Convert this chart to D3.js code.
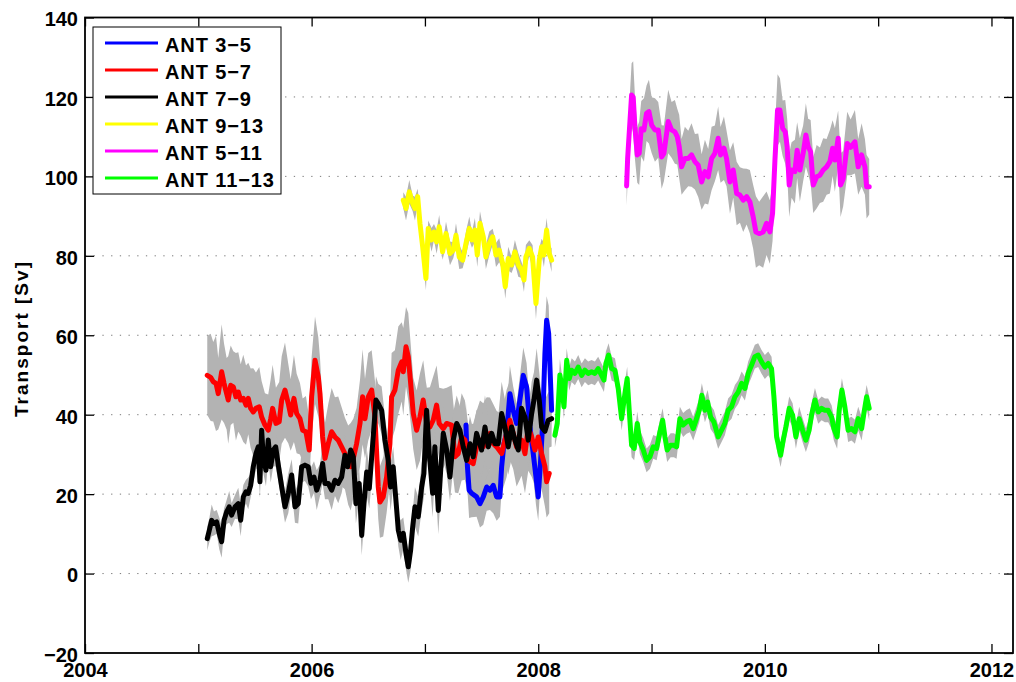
<!DOCTYPE html>
<html>
<head>
<meta charset="utf-8">
<script src="https://cdn.jsdelivr.net/npm/d3@7"></script>
<style>
  html, body { margin: 0; padding: 0; background: #fff; }
  svg { display: block; }
  text { font-family: "Liberation Sans", Arial, Helvetica, sans-serif; font-weight: bold; fill: #000; }
</style>
</head>
<body>
<svg id="chart" width="1016" height="682"></svg>
<script>
// Transport time series per section: [decimal year, transport (Sv), half-width of uncertainty band (Sv)]
const ant35 = [
  [2007.362, 37.4, 6], [2007.375, 27.0, 6], [2007.390, 21.0, 7], [2007.412, 20.2, 6], [2007.456, 19.3, 5],
  [2007.486, 17.6, 6], [2007.515, 19.3, 7], [2007.545, 21.8, 6], [2007.574, 21.0, 5], [2007.603, 22.2, 7],
  [2007.633, 19.3, 6], [2007.662, 19.3, 5], [2007.677, 26.9, 6], [2007.697, 32.7, 7], [2007.721, 35.3, 6],
  [2007.750, 45.3, 7], [2007.779, 41.1, 6], [2007.809, 37.8, 5], [2007.838, 43.7, 6], [2007.868, 49.9, 7],
  [2007.897, 47.0, 6], [2007.927, 36.9, 5], [2007.956, 30.2, 6], [2007.980, 24.3, 7], [2008.000, 19.3, 6],
  [2008.021, 28.5, 5], [2008.039, 37.8, 6], [2008.059, 55.4, 7], [2008.074, 63.8, 6], [2008.092, 60.5, 7],
  [2008.109, 47.9, 6], [2008.118, 41.1, 6]
];

const ant57 = [
  [2005.079, 49.9, 10], [2005.109, 49.4, 11], [2005.132, 48.3, 10], [2005.156, 47.9, 12], [2005.176, 45.3, 9],
  [2005.206, 50.8, 12], [2005.227, 47.9, 10], [2005.250, 45.3, 9], [2005.264, 43.7, 11], [2005.286, 47.4, 10],
  [2005.309, 47.0, 9], [2005.332, 44.5, 11], [2005.353, 45.7, 10], [2005.374, 43.7, 9], [2005.397, 44.1, 11],
  [2005.421, 42.4, 10], [2005.441, 44.1, 9], [2005.462, 41.6, 10], [2005.485, 40.7, 11], [2005.509, 41.6, 9],
  [2005.538, 42.0, 10], [2005.559, 39.4, 9], [2005.588, 37.4, 8], [2005.617, 36.1, 9], [2005.639, 39.0, 10],
  [2005.656, 41.6, 11], [2005.685, 37.8, 9], [2005.714, 38.2, 10], [2005.736, 43.7, 11], [2005.765, 46.2, 12],
  [2005.794, 42.8, 10], [2005.815, 39.9, 9], [2005.844, 44.1, 11], [2005.868, 40.3, 10], [2005.897, 39.0, 9],
  [2005.921, 36.1, 8], [2005.950, 35.7, 9], [2005.979, 31.1, 8], [2006.000, 44.5, 10], [2006.030, 53.7, 11],
  [2006.059, 49.5, 10], [2006.074, 45.3, 9], [2006.097, 34.4, 8], [2006.118, 29.0, 9], [2006.147, 32.7, 10],
  [2006.177, 35.7, 11], [2006.206, 34.4, 10], [2006.235, 33.6, 11], [2006.265, 31.9, 10], [2006.294, 30.2, 9],
  [2006.323, 27.3, 10], [2006.345, 26.9, 11], [2006.368, 29.0, 10], [2006.397, 32.7, 9], [2006.427, 37.8, 11],
  [2006.450, 44.5, 12], [2006.471, 39.0, 10], [2006.500, 44.5, 11], [2006.530, 46.2, 10], [2006.559, 39.4, 9],
  [2006.588, 21.8, 8], [2006.603, 18.0, 9], [2006.632, 19.3, 10], [2006.662, 24.3, 9], [2006.691, 32.7, 10],
  [2006.706, 44.5, 11], [2006.735, 46.2, 10], [2006.765, 51.2, 11], [2006.795, 53.3, 10], [2006.809, 50.8, 11],
  [2006.833, 57.1, 10], [2006.853, 54.6, 11], [2006.874, 47.9, 10], [2006.897, 40.3, 9], [2006.927, 36.1, 10],
  [2006.956, 39.4, 11], [2006.985, 43.7, 10], [2007.015, 37.8, 9], [2007.044, 36.9, 10], [2007.073, 38.6, 11],
  [2007.103, 42.4, 10], [2007.126, 37.8, 9], [2007.162, 36.5, 10], [2007.192, 37.8, 9], [2007.236, 37.4, 10],
  [2007.265, 29.4, 9], [2007.294, 30.2, 10], [2007.324, 34.4, 11], [2007.353, 33.6, 10], [2007.382, 28.5, 9],
  [2007.426, 27.7, 10], [2007.456, 31.9, 9], [2007.486, 33.6, 10], [2007.515, 31.9, 11], [2007.545, 34.4, 10],
  [2007.574, 35.3, 9], [2007.603, 32.7, 10], [2007.633, 31.9, 9], [2007.677, 30.2, 10], [2007.721, 35.3, 11],
  [2007.750, 38.6, 10], [2007.779, 35.3, 9], [2007.809, 31.9, 10], [2007.853, 33.6, 9], [2007.883, 30.2, 10],
  [2007.912, 36.9, 11], [2007.942, 34.4, 10], [2007.971, 31.1, 9], [2008.000, 34.4, 10], [2008.030, 30.2, 9],
  [2008.059, 26.9, 10], [2008.074, 23.1, 9], [2008.097, 25.2, 10]
];

const ant79 = [
  [2005.079, 8.8, 3], [2005.097, 10.9, 3], [2005.118, 13.4, 4], [2005.138, 12.6, 3], [2005.162, 13.0, 3],
  [2005.185, 10.1, 4], [2005.206, 8.0, 4], [2005.227, 13.4, 3], [2005.250, 15.5, 3], [2005.273, 16.8, 4],
  [2005.294, 14.7, 3], [2005.324, 16.8, 3], [2005.353, 17.6, 4], [2005.374, 13.4, 4], [2005.397, 19.3, 3],
  [2005.421, 20.6, 3], [2005.441, 20.2, 4], [2005.462, 22.2, 3], [2005.485, 26.9, 4], [2005.509, 30.2, 4],
  [2005.529, 31.9, 5], [2005.544, 23.1, 4], [2005.559, 36.1, 5], [2005.573, 29.4, 4], [2005.597, 26.0, 4],
  [2005.617, 33.6, 5], [2005.639, 26.9, 4], [2005.662, 31.1, 4], [2005.683, 31.9, 5], [2005.706, 27.3, 4],
  [2005.736, 21.8, 4], [2005.765, 16.8, 4], [2005.794, 20.2, 5], [2005.824, 24.8, 4], [2005.853, 16.8, 4],
  [2005.882, 17.6, 5], [2005.912, 26.9, 4], [2005.941, 27.3, 4], [2005.970, 26.9, 5], [2005.994, 22.7, 4],
  [2006.021, 24.3, 4], [2006.045, 21.0, 5], [2006.074, 23.5, 4], [2006.097, 27.7, 5], [2006.118, 22.7, 4],
  [2006.147, 22.7, 4], [2006.177, 21.0, 5], [2006.206, 23.5, 4], [2006.235, 22.7, 5], [2006.265, 24.3, 4],
  [2006.294, 29.8, 5], [2006.318, 26.9, 5], [2006.345, 31.1, 4], [2006.368, 29.4, 5], [2006.391, 17.6, 5],
  [2006.420, 22.7, 4], [2006.442, 9.6, 5], [2006.462, 17.6, 5], [2006.486, 25.6, 6], [2006.509, 21.4, 5],
  [2006.539, 32.7, 6], [2006.568, 43.7, 6], [2006.588, 42.8, 5], [2006.618, 41.1, 6], [2006.647, 33.6, 6],
  [2006.676, 28.5, 5], [2006.697, 21.8, 6], [2006.720, 26.9, 5], [2006.744, 18.5, 5], [2006.765, 10.9, 4],
  [2006.786, 8.4, 5], [2006.809, 10.1, 4], [2006.833, 5.0, 4], [2006.853, 1.7, 4], [2006.874, 5.9, 5],
  [2006.892, 11.7, 4], [2006.912, 16.8, 5], [2006.941, 14.3, 5], [2006.971, 21.8, 6], [2006.991, 25.2, 6],
  [2007.015, 41.1, 7], [2007.038, 30.2, 6], [2007.068, 20.2, 6], [2007.088, 31.9, 7], [2007.118, 15.9, 6],
  [2007.139, 26.0, 6], [2007.162, 35.3, 7], [2007.192, 31.1, 6], [2007.221, 24.3, 6], [2007.250, 33.6, 7],
  [2007.280, 37.8, 7], [2007.309, 36.1, 6], [2007.338, 31.9, 7], [2007.368, 28.5, 6], [2007.397, 32.7, 7],
  [2007.426, 29.4, 7], [2007.456, 35.3, 6], [2007.500, 31.1, 7], [2007.530, 36.9, 8], [2007.559, 31.9, 7],
  [2007.589, 35.3, 7], [2007.618, 32.7, 8], [2007.647, 32.7, 7], [2007.677, 40.3, 8], [2007.706, 36.9, 7],
  [2007.735, 31.9, 7], [2007.765, 36.9, 8], [2007.794, 33.6, 7], [2007.824, 31.1, 7], [2007.853, 41.6, 8],
  [2007.883, 39.4, 7], [2007.912, 33.6, 7], [2007.942, 40.3, 8], [2007.962, 43.7, 7], [2007.986, 48.7, 8],
  [2008.009, 43.7, 7], [2008.030, 36.9, 7], [2008.059, 35.8, 8], [2008.088, 38.6, 7], [2008.118, 39.0, 7]
];

const ant913 = [
  [2006.809, 94.0, 2], [2006.833, 91.9, 3], [2006.862, 96.1, 3], [2006.892, 93.2, 2], [2006.912, 91.9, 3],
  [2006.936, 94.9, 2], [2006.956, 88.2, 3], [2006.980, 82.3, 3], [2007.009, 74.3, 3], [2007.029, 86.9, 2],
  [2007.059, 84.0, 3], [2007.080, 86.0, 2], [2007.103, 83.5, 3], [2007.126, 87.3, 3], [2007.156, 81.0, 2],
  [2007.186, 85.6, 3], [2007.221, 80.6, 3], [2007.250, 81.4, 2], [2007.274, 85.2, 3], [2007.303, 79.7, 3],
  [2007.333, 78.9, 2], [2007.362, 83.1, 3], [2007.392, 86.9, 3], [2007.415, 84.0, 2], [2007.441, 86.5, 3],
  [2007.462, 80.2, 3], [2007.486, 88.2, 3], [2007.515, 84.8, 2], [2007.538, 79.7, 3], [2007.568, 83.1, 3],
  [2007.598, 84.8, 2], [2007.627, 80.2, 3], [2007.656, 81.4, 3], [2007.686, 78.1, 2], [2007.709, 72.2, 3],
  [2007.735, 79.3, 3], [2007.765, 77.7, 2], [2007.794, 81.0, 3], [2007.824, 77.7, 3], [2007.853, 76.4, 2],
  [2007.874, 73.9, 3], [2007.891, 79.7, 3], [2007.921, 81.9, 2], [2007.950, 79.7, 3], [2007.980, 68.0, 4],
  [2008.009, 78.9, 3], [2008.030, 82.3, 2], [2008.050, 80.2, 3], [2008.074, 86.5, 3], [2008.097, 80.6, 2],
  [2008.118, 78.9, 3]
];

const ant511 = [
  [2008.780, 97.6, 5], [2008.789, 104.5, 6], [2008.824, 120.5, 8], [2008.838, 120.0, 9], [2008.853, 112.5, 8],
  [2008.874, 105.4, 7], [2008.891, 105.8, 8], [2008.909, 112.0, 7], [2008.933, 111.7, 8], [2008.956, 115.9, 7],
  [2008.977, 116.3, 8], [2009.001, 112.9, 7], [2009.030, 111.7, 8], [2009.059, 111.7, 7], [2009.089, 104.9, 8],
  [2009.109, 105.8, 7], [2009.147, 113.8, 8], [2009.177, 111.7, 7], [2009.206, 111.2, 8], [2009.227, 110.0, 7],
  [2009.244, 107.5, 8], [2009.265, 102.4, 7], [2009.294, 104.5, 8], [2009.324, 104.5, 7], [2009.353, 105.4, 8],
  [2009.383, 103.7, 7], [2009.412, 102.8, 8], [2009.442, 98.6, 7], [2009.471, 101.2, 8], [2009.500, 99.9, 7],
  [2009.530, 104.5, 8], [2009.559, 105.8, 7], [2009.588, 109.6, 8], [2009.609, 105.4, 7], [2009.639, 107.1, 8],
  [2009.662, 104.5, 7], [2009.692, 98.6, 8], [2009.721, 101.6, 7], [2009.751, 95.7, 8], [2009.780, 95.3, 7],
  [2009.809, 94.0, 8], [2009.839, 94.9, 7], [2009.868, 93.6, 8], [2009.897, 89.8, 8], [2009.921, 86.0, 9],
  [2009.950, 85.6, 8], [2009.985, 86.0, 9], [2010.015, 88.2, 8], [2010.044, 86.0, 8], [2010.068, 90.7, 7],
  [2010.089, 104.1, 8], [2010.112, 116.7, 9], [2010.133, 116.7, 8], [2010.157, 112.1, 7], [2010.180, 111.2, 8],
  [2010.197, 107.5, 7], [2010.215, 97.8, 8], [2010.236, 101.6, 7], [2010.265, 101.2, 8], [2010.285, 106.6, 7],
  [2010.309, 101.6, 8], [2010.338, 105.8, 7], [2010.362, 110.4, 8], [2010.382, 107.5, 7], [2010.404, 106.2, 8],
  [2010.427, 97.8, 7], [2010.457, 99.9, 8], [2010.486, 100.3, 7], [2010.515, 101.6, 8], [2010.545, 102.4, 7],
  [2010.574, 103.7, 8], [2010.598, 107.1, 7], [2010.618, 104.1, 8], [2010.647, 109.6, 7], [2010.668, 97.8, 8],
  [2010.691, 99.4, 7], [2010.727, 108.3, 8], [2010.757, 107.3, 7], [2010.795, 108.7, 8], [2010.824, 102.4, 7],
  [2010.854, 105.4, 8], [2010.883, 102.4, 7], [2010.898, 97.4, 8], [2010.921, 97.4, 7]
];

const ant1113 = [
  [2008.147, 34.8, 3], [2008.168, 37.8, 3], [2008.191, 50.0, 4], [2008.209, 47.0, 3], [2008.227, 42.0, 3],
  [2008.251, 53.7, 3], [2008.274, 49.1, 3], [2008.295, 51.2, 3], [2008.324, 50.4, 3], [2008.353, 52.0, 3],
  [2008.383, 49.9, 3], [2008.412, 51.2, 3], [2008.441, 50.4, 3], [2008.471, 50.8, 3], [2008.500, 50.4, 3],
  [2008.529, 51.6, 3], [2008.559, 49.9, 3], [2008.580, 48.7, 3], [2008.597, 52.9, 3], [2008.621, 55.0, 3],
  [2008.648, 51.6, 3], [2008.677, 51.2, 3], [2008.706, 46.6, 3], [2008.736, 39.0, 3], [2008.765, 45.3, 3],
  [2008.785, 49.1, 3], [2008.803, 41.1, 3], [2008.824, 32.3, 3], [2008.847, 31.5, 3], [2008.874, 37.8, 3],
  [2008.897, 33.1, 3], [2008.927, 31.1, 3], [2008.956, 28.5, 3], [2008.986, 29.4, 3], [2009.015, 31.9, 3],
  [2009.045, 31.5, 3], [2009.074, 35.7, 3], [2009.098, 38.6, 3], [2009.118, 34.4, 3], [2009.138, 31.1, 3],
  [2009.168, 32.3, 3], [2009.197, 32.3, 3], [2009.221, 31.9, 3], [2009.250, 39.0, 3], [2009.279, 37.4, 3],
  [2009.309, 38.2, 3], [2009.338, 38.6, 3], [2009.368, 36.5, 3], [2009.397, 39.0, 3], [2009.421, 41.1, 3],
  [2009.444, 44.9, 3], [2009.471, 41.1, 3], [2009.495, 43.2, 3], [2009.521, 39.4, 3], [2009.550, 38.2, 3],
  [2009.588, 34.4, 3], [2009.618, 36.1, 3], [2009.647, 37.8, 3], [2009.676, 41.1, 3], [2009.706, 42.0, 3],
  [2009.736, 44.5, 3], [2009.765, 45.7, 3], [2009.795, 47.9, 3], [2009.824, 46.6, 3], [2009.853, 50.4, 3],
  [2009.883, 52.5, 3], [2009.912, 54.6, 3], [2009.941, 55.0, 3], [2009.971, 53.3, 3], [2010.000, 52.0, 3],
  [2010.030, 52.9, 3], [2010.059, 51.6, 3], [2010.080, 44.5, 3], [2010.104, 34.4, 3], [2010.139, 29.8, 3],
  [2010.162, 33.6, 3], [2010.186, 36.9, 3], [2010.215, 41.6, 3], [2010.245, 39.9, 3], [2010.274, 34.4, 3],
  [2010.303, 39.0, 3], [2010.333, 36.1, 3], [2010.362, 33.6, 3], [2010.391, 36.1, 3], [2010.412, 39.9, 3],
  [2010.442, 43.7, 3], [2010.471, 40.7, 3], [2010.501, 41.6, 3], [2010.530, 41.1, 3], [2010.559, 41.1, 3],
  [2010.589, 39.4, 3], [2010.609, 36.5, 3], [2010.638, 34.4, 3], [2010.656, 41.1, 3], [2010.680, 46.2, 3],
  [2010.706, 42.0, 3], [2010.735, 36.1, 3], [2010.765, 36.5, 3], [2010.795, 35.7, 3], [2010.824, 39.0, 3],
  [2010.854, 36.5, 3], [2010.874, 40.3, 3], [2010.898, 44.5, 3], [2010.921, 41.6, 3]
];

const seriesNames = ["ANT 3\u22125", "ANT 5\u22127", "ANT 7\u22129", "ANT 9\u221213", "ANT 5\u221211", "ANT 11\u221213"];
const seriesColors = ["#0000ff", "#ff0000", "#000000", "#ffff00", "#ff00ff", "#00ff00"];
const seriesData = [ant35, ant57, ant79, ant913, ant511, ant1113];

const xTicks = [2004, 2005, 2006, 2007, 2008, 2009, 2010, 2011, 2012];
const yTicks = [-20, 0, 20, 40, 60, 80, 100, 120, 140];
const yTickLabels = ["\u221220", "0", "20", "40", "60", "80", "100", "120", "140"];
const xDomain = [2004, 2012.19];
const yDomain = [-20, 140];
const yLabel = "Transport [Sv]";

// ---- layout ----
const svg = d3.select("#chart");
const plot = { left: 85, right: 1013, top: 17.5, bottom: 653 };

const x = d3.scaleLinear().domain(xDomain).range([plot.left, plot.right]);
const y = d3.scaleLinear().domain(yDomain).range([plot.bottom, plot.top]);

// horizontal dotted grid
svg.append("g").selectAll("line")
  .data(yTicks.slice(1, -1))
  .join("line")
  .attr("x1", plot.left).attr("x2", plot.right)
  .attr("y1", d => y(d)).attr("y2", d => y(d))
  .attr("stroke", "#7a7a7a").attr("stroke-width", 1)
  .attr("stroke-dasharray", "1.3 7.4");

// uncertainty bands
const band = d3.area()
  .x(d => x(d[0]))
  .y0(d => y(d[1] - d[2]))
  .y1(d => y(d[1] + d[2]))
  .curve(d3.curveLinear);

svg.append("g").selectAll("path")
  .data(seriesData)
  .join("path")
  .attr("d", band)
  .attr("fill", "#b3b3b3");

// transport lines
const line = d3.line().x(d => x(d[0])).y(d => y(d[1]));
svg.append("g").selectAll("path")
  .data(seriesData)
  .join("path")
  .attr("d", line)
  .attr("fill", "none")
  .attr("stroke", (d, i) => seriesColors[i])
  .attr("stroke-width", 5)
  .attr("stroke-linejoin", "round")
  .attr("stroke-linecap", "round");

// axes with inward ticks on all four sides
const tickLen = -9;
const styleAxis = g => {
  g.select(".domain").remove();
  g.selectAll(".tick line").attr("stroke", "#000").attr("stroke-width", 1.3);
  g.selectAll(".tick text").attr("font-size", 20).attr("font-family", null);
  g.attr("font-family", null).attr("font-size", null);
};

svg.append("g")
  .attr("transform", `translate(0,${plot.bottom})`)
  .call(d3.axisBottom(x).tickValues(xTicks).tickSize(tickLen).tickSizeOuter(0).tickPadding(10)
    .tickFormat(d => (d % 2 === 0 ? String(d) : "")))
  .call(styleAxis);

svg.append("g")
  .attr("transform", `translate(0,${plot.top})`)
  .call(d3.axisTop(x).tickValues(xTicks).tickSize(tickLen).tickSizeOuter(0).tickFormat(""))
  .call(styleAxis);

svg.append("g")
  .attr("transform", `translate(${plot.left},0)`)
  .call(d3.axisLeft(y).tickValues(yTicks).tickSize(tickLen).tickSizeOuter(0).tickPadding(7)
    .tickFormat((d, i) => yTickLabels[i]))
  .call(styleAxis)
  .call(g => g.selectAll(".tick text").attr("dy", "0.42em"));

svg.append("g")
  .attr("transform", `translate(${plot.right},0)`)
  .call(d3.axisRight(y).tickValues(yTicks).tickSize(tickLen).tickSizeOuter(0).tickFormat(""))
  .call(styleAxis);

// axes box
svg.append("rect")
  .attr("x", plot.left).attr("y", plot.top)
  .attr("width", plot.right - plot.left).attr("height", plot.bottom - plot.top)
  .attr("fill", "none").attr("stroke", "#000").attr("stroke-width", 1.8);

// y axis label
svg.append("text")
  .attr("transform", `translate(28,${(262 + 417) / 2}) rotate(-90)`)
  .attr("text-anchor", "middle")
  .attr("font-size", 19)
  .attr("textLength", 155)
  .attr("lengthAdjust", "spacing")
  .text(yLabel);

// legend
const legend = svg.append("g").attr("transform", "translate(93,27)");
legend.append("rect")
  .attr("width", 188).attr("height", 167)
  .attr("fill", "#fff").attr("stroke", "#000").attr("stroke-width", 1);

const rows = legend.selectAll("g.row")
  .data(seriesNames)
  .join("g")
  .attr("class", "row")
  .attr("transform", (d, i) => `translate(0,${16 + i * 27})`);

rows.append("line")
  .attr("x1", 12).attr("x2", 65)
  .attr("stroke", (d, i) => seriesColors[i])
  .attr("stroke-width", 3);

rows.append("text")
  .attr("x", 72)
  .attr("y", 9)
  .attr("font-size", 20)
  .attr("letter-spacing", 0.9)
  .text(d => d);
</script>
</body>
</html>
